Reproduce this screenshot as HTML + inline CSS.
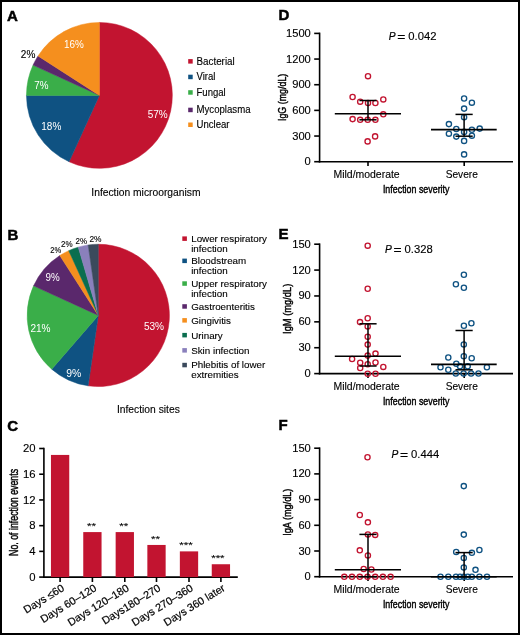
<!DOCTYPE html>
<html><head><meta charset="utf-8"><style>
html,body{margin:0;padding:0;background:#fff;}
svg{display:block;will-change:transform;}
text{font-family:"Liberation Sans",sans-serif;}
</style></head><body>
<svg width="520" height="635" viewBox="0 0 520 635">
<rect x="0" y="0" width="520" height="635" fill="#fff"/>
<text x="7" y="20.5" font-size="15" fill="#000" font-weight="bold" stroke="#000" stroke-width="0.5">A</text>
<path d="M99.4,95.4 L99.40,22.45 A72.95,72.95 0 1 1 69.10,161.76 Z" fill="#C21430" stroke="#C21430" stroke-width="0.5" stroke-linejoin="round"/>
<path d="M99.4,95.4 L69.10,161.76 A72.95,72.95 0 0 1 26.45,95.40 Z" fill="#0F5282" stroke="#0F5282" stroke-width="0.5" stroke-linejoin="round"/>
<path d="M99.4,95.4 L26.45,95.40 A72.95,72.95 0 0 1 33.04,65.10 Z" fill="#3AAE49" stroke="#3AAE49" stroke-width="0.5" stroke-linejoin="round"/>
<path d="M99.4,95.4 L33.04,65.10 A72.95,72.95 0 0 1 38.03,55.96 Z" fill="#5A286C" stroke="#5A286C" stroke-width="0.5" stroke-linejoin="round"/>
<path d="M99.4,95.4 L38.03,55.96 A72.95,72.95 0 0 1 99.40,22.45 Z" fill="#F58F1E" stroke="#F58F1E" stroke-width="0.5" stroke-linejoin="round"/>
<text x="147.7" y="117.5" font-size="10" fill="#fff" textLength="20" lengthAdjust="spacingAndGlyphs">57%</text>
<text x="41.3" y="130.4" font-size="10" fill="#fff" textLength="20" lengthAdjust="spacingAndGlyphs">18%</text>
<text x="34.2" y="88.6" font-size="10" fill="#fff" textLength="14.2" lengthAdjust="spacingAndGlyphs">7%</text>
<text x="64.1" y="47.6" font-size="10" fill="#fff" textLength="19.8" lengthAdjust="spacingAndGlyphs">16%</text>
<text x="20.8" y="57.9" font-size="10" fill="#000" textLength="14.5" lengthAdjust="spacingAndGlyphs" stroke="#000" stroke-width="0.12">2%</text>
<rect x="188.2" y="59.099999999999994" width="4.5" height="4.5" fill="#C21430"/>
<text x="196.5" y="64.7" font-size="10" fill="#000" textLength="38.2" lengthAdjust="spacingAndGlyphs" stroke="#000" stroke-width="0.12">Bacterial</text>
<rect x="188.2" y="74.7" width="4.5" height="4.5" fill="#0F5282"/>
<text x="196.5" y="80.30000000000001" font-size="10" fill="#000" textLength="19.0" lengthAdjust="spacingAndGlyphs" stroke="#000" stroke-width="0.12">Viral</text>
<rect x="188.2" y="90.2" width="4.5" height="4.5" fill="#3AAE49"/>
<text x="196.5" y="95.80000000000001" font-size="10" fill="#000" textLength="29.2" lengthAdjust="spacingAndGlyphs" stroke="#000" stroke-width="0.12">Fungal</text>
<rect x="188.2" y="107.7" width="4.5" height="4.5" fill="#5A286C"/>
<text x="196.5" y="113.30000000000001" font-size="10" fill="#000" textLength="54.0" lengthAdjust="spacingAndGlyphs" stroke="#000" stroke-width="0.12">Mycoplasma</text>
<rect x="188.2" y="122.5" width="4.5" height="4.5" fill="#F58F1E"/>
<text x="196.5" y="128.1" font-size="10" fill="#000" textLength="33.0" lengthAdjust="spacingAndGlyphs" stroke="#000" stroke-width="0.12">Unclear</text>
<text x="91.3" y="195.9" font-size="10" fill="#000" textLength="109.2" lengthAdjust="spacingAndGlyphs" stroke="#000" stroke-width="0.12">Infection microorganism</text>
<text x="7.5" y="239.6" font-size="15" fill="#000" font-weight="bold" stroke="#000" stroke-width="0.5">B</text>
<path d="M98.3,315.4 L98.30,244.25 A71.15,71.15 0 1 1 88.17,385.83 Z" fill="#C21430" stroke="#C21430" stroke-width="0.5" stroke-linejoin="round"/>
<path d="M98.3,315.4 L88.17,385.83 A71.15,71.15 0 0 1 51.71,369.17 Z" fill="#0F5282" stroke="#0F5282" stroke-width="0.5" stroke-linejoin="round"/>
<path d="M98.3,315.4 L51.71,369.17 A71.15,71.15 0 0 1 33.58,285.84 Z" fill="#3AAE49" stroke="#3AAE49" stroke-width="0.5" stroke-linejoin="round"/>
<path d="M98.3,315.4 L33.58,285.84 A71.15,71.15 0 0 1 59.83,255.54 Z" fill="#5A286C" stroke="#5A286C" stroke-width="0.5" stroke-linejoin="round"/>
<path d="M98.3,315.4 L59.83,255.54 A71.15,71.15 0 0 1 68.74,250.68 Z" fill="#F58F1E" stroke="#F58F1E" stroke-width="0.5" stroke-linejoin="round"/>
<path d="M98.3,315.4 L68.74,250.68 A71.15,71.15 0 0 1 78.25,247.13 Z" fill="#0B6E4F" stroke="#0B6E4F" stroke-width="0.5" stroke-linejoin="round"/>
<path d="M98.3,315.4 L78.25,247.13 A71.15,71.15 0 0 1 88.17,244.97 Z" fill="#8A80BC" stroke="#8A80BC" stroke-width="0.5" stroke-linejoin="round"/>
<path d="M98.3,315.4 L88.17,244.97 A71.15,71.15 0 0 1 98.30,244.25 Z" fill="#3B4A5C" stroke="#3B4A5C" stroke-width="0.5" stroke-linejoin="round"/>
<text x="143.9" y="329.7" font-size="10" fill="#fff" textLength="20.2" lengthAdjust="spacingAndGlyphs">53%</text>
<text x="66.3" y="376.7" font-size="10" fill="#fff" textLength="15" lengthAdjust="spacingAndGlyphs">9%</text>
<text x="30.4" y="332.3" font-size="10" fill="#fff" textLength="20.2" lengthAdjust="spacingAndGlyphs">21%</text>
<text x="45.5" y="280.8" font-size="10" fill="#fff" textLength="14.2" lengthAdjust="spacingAndGlyphs">9%</text>
<text x="50.2" y="252.8" font-size="8.2" fill="#000" textLength="10.9" lengthAdjust="spacingAndGlyphs" stroke="#000" stroke-width="0.12">2%</text>
<text x="61.1" y="247" font-size="8.2" fill="#000" textLength="11.6" lengthAdjust="spacingAndGlyphs" stroke="#000" stroke-width="0.12">2%</text>
<text x="75.6" y="243.6" font-size="8.2" fill="#000" textLength="11.5" lengthAdjust="spacingAndGlyphs" stroke="#000" stroke-width="0.12">2%</text>
<text x="89.4" y="242.1" font-size="8.2" fill="#000" textLength="12.1" lengthAdjust="spacingAndGlyphs" stroke="#000" stroke-width="0.12">2%</text>
<rect x="182.3" y="236.4" width="4.6" height="4.5" fill="#C21430"/>
<text x="191.2" y="242" font-size="9.8" fill="#000" stroke="#000" stroke-width="0.12">Lower respiratory</text>
<text x="191.2" y="251.5" font-size="9.8" fill="#000" stroke="#000" stroke-width="0.12">infection</text>
<rect x="182.3" y="258.59999999999997" width="4.6" height="4.5" fill="#0F5282"/>
<text x="191.2" y="264.2" font-size="9.8" fill="#000" stroke="#000" stroke-width="0.12">Bloodstream</text>
<text x="191.2" y="273.8" font-size="9.8" fill="#000" stroke="#000" stroke-width="0.12">infection</text>
<rect x="182.3" y="281.29999999999995" width="4.6" height="4.5" fill="#3AAE49"/>
<text x="191.2" y="286.9" font-size="9.8" fill="#000" stroke="#000" stroke-width="0.12">Upper respiratory</text>
<text x="191.2" y="296.5" font-size="9.8" fill="#000" stroke="#000" stroke-width="0.12">infection</text>
<rect x="182.3" y="304.2" width="4.6" height="4.5" fill="#5A286C"/>
<text x="191.2" y="309.8" font-size="9.8" fill="#000" stroke="#000" stroke-width="0.12">Gastroenteritis</text>
<rect x="182.3" y="318.09999999999997" width="4.6" height="4.5" fill="#F58F1E"/>
<text x="191.2" y="323.7" font-size="9.8" fill="#000" stroke="#000" stroke-width="0.12">Gingivitis</text>
<rect x="182.3" y="332.9" width="4.6" height="4.5" fill="#0B6E4F"/>
<text x="191.2" y="338.5" font-size="9.8" fill="#000" stroke="#000" stroke-width="0.12">Urinary</text>
<rect x="182.3" y="348.09999999999997" width="4.6" height="4.5" fill="#8A80BC"/>
<text x="191.2" y="353.7" font-size="9.8" fill="#000" stroke="#000" stroke-width="0.12">Skin infection</text>
<rect x="182.3" y="362.79999999999995" width="4.6" height="4.5" fill="#3B4A5C"/>
<text x="191.2" y="368.4" font-size="9.8" fill="#000" stroke="#000" stroke-width="0.12">Phlebitis of lower</text>
<text x="191.2" y="377.9" font-size="9.8" fill="#000" stroke="#000" stroke-width="0.12">extremities</text>
<text x="116.9" y="413.3" font-size="10" fill="#000" textLength="62.9" lengthAdjust="spacingAndGlyphs" stroke="#000" stroke-width="0.12">Infection sites</text>
<text x="7.3" y="431.1" font-size="15" fill="#000" font-weight="bold" stroke="#000" stroke-width="0.5">C</text>
<line x1="43.9" y1="447.7" x2="43.9" y2="577.9" stroke="#000" stroke-width="1.6"/>
<line x1="43.1" y1="577.1" x2="237.8" y2="577.1" stroke="#000" stroke-width="1.8"/>
<line x1="39.2" y1="577.1" x2="43.9" y2="577.1" stroke="#000" stroke-width="1.6"/>
<text x="35.6" y="580.7" font-size="10.2" fill="#000" text-anchor="end" textLength="6.3" lengthAdjust="spacingAndGlyphs" stroke="#000" stroke-width="0.12">0</text>
<line x1="39.2" y1="551.38" x2="43.9" y2="551.38" stroke="#000" stroke-width="1.6"/>
<text x="35.6" y="554.98" font-size="10.2" fill="#000" text-anchor="end" textLength="6.3" lengthAdjust="spacingAndGlyphs" stroke="#000" stroke-width="0.12">4</text>
<line x1="39.2" y1="525.6600000000001" x2="43.9" y2="525.6600000000001" stroke="#000" stroke-width="1.6"/>
<text x="35.6" y="529.2600000000001" font-size="10.2" fill="#000" text-anchor="end" textLength="6.3" lengthAdjust="spacingAndGlyphs" stroke="#000" stroke-width="0.12">8</text>
<line x1="39.2" y1="499.94000000000005" x2="43.9" y2="499.94000000000005" stroke="#000" stroke-width="1.6"/>
<text x="35.6" y="503.5400000000001" font-size="10.2" fill="#000" text-anchor="end" textLength="12.6" lengthAdjust="spacingAndGlyphs" stroke="#000" stroke-width="0.12">12</text>
<line x1="39.2" y1="474.22" x2="43.9" y2="474.22" stroke="#000" stroke-width="1.6"/>
<text x="35.6" y="477.82000000000005" font-size="10.2" fill="#000" text-anchor="end" textLength="12.6" lengthAdjust="spacingAndGlyphs" stroke="#000" stroke-width="0.12">16</text>
<line x1="39.2" y1="448.5" x2="43.9" y2="448.5" stroke="#000" stroke-width="1.6"/>
<text x="35.6" y="452.1" font-size="10.2" fill="#000" text-anchor="end" textLength="12.6" lengthAdjust="spacingAndGlyphs" stroke="#000" stroke-width="0.12">20</text>
<rect x="50.95" y="454.93000000000006" width="18.3" height="122.16999999999999" fill="#C21430"/>
<line x1="60.1" y1="577.1" x2="60.1" y2="582" stroke="#000" stroke-width="1.6"/>
<text x="65.1" y="590.0" font-size="10.8" fill="#000" stroke="#000" stroke-width="0.2" text-anchor="end" transform="rotate(-31.5 65.1 590.0)">Days ≤60</text>
<rect x="83.25" y="532.09" width="18.3" height="45.01" fill="#C21430"/>
<line x1="92.4" y1="577.1" x2="92.4" y2="582" stroke="#000" stroke-width="1.6"/>
<text x="91.4" y="528.7900000000001" font-size="9.2" fill="#000" text-anchor="middle" textLength="9.0" lengthAdjust="spacingAndGlyphs" stroke="#000" stroke-width="0.12">**</text>
<text x="97.4" y="590.0" font-size="10.8" fill="#000" stroke="#000" stroke-width="0.2" text-anchor="end" transform="rotate(-31.5 97.4 590.0)">Days 60–120</text>
<rect x="115.64999999999999" y="532.09" width="18.3" height="45.01" fill="#C21430"/>
<line x1="124.8" y1="577.1" x2="124.8" y2="582" stroke="#000" stroke-width="1.6"/>
<text x="123.8" y="528.7900000000001" font-size="9.2" fill="#000" text-anchor="middle" textLength="9.0" lengthAdjust="spacingAndGlyphs" stroke="#000" stroke-width="0.12">**</text>
<text x="129.8" y="590.0" font-size="10.8" fill="#000" stroke="#000" stroke-width="0.2" text-anchor="end" transform="rotate(-31.5 129.8 590.0)">Days 120–180</text>
<rect x="147.35" y="544.95" width="18.3" height="32.15" fill="#C21430"/>
<line x1="156.5" y1="577.1" x2="156.5" y2="582" stroke="#000" stroke-width="1.6"/>
<text x="155.5" y="541.6500000000001" font-size="9.2" fill="#000" text-anchor="middle" textLength="9.0" lengthAdjust="spacingAndGlyphs" stroke="#000" stroke-width="0.12">**</text>
<text x="161.5" y="590.0" font-size="10.8" fill="#000" stroke="#000" stroke-width="0.2" text-anchor="end" transform="rotate(-31.5 161.5 590.0)">Days180–270</text>
<rect x="179.85" y="551.38" width="18.3" height="25.72" fill="#C21430"/>
<line x1="189" y1="577.1" x2="189" y2="582" stroke="#000" stroke-width="1.6"/>
<text x="186.0" y="548.08" font-size="9.2" fill="#000" text-anchor="middle" textLength="13.4" lengthAdjust="spacingAndGlyphs" stroke="#000" stroke-width="0.12">***</text>
<text x="194.0" y="590.0" font-size="10.8" fill="#000" stroke="#000" stroke-width="0.2" text-anchor="end" transform="rotate(-31.5 194.0 590.0)">Days 270–360</text>
<rect x="211.75" y="564.24" width="18.3" height="12.86" fill="#C21430"/>
<line x1="220.9" y1="577.1" x2="220.9" y2="582" stroke="#000" stroke-width="1.6"/>
<text x="217.9" y="560.94" font-size="9.2" fill="#000" text-anchor="middle" textLength="13.4" lengthAdjust="spacingAndGlyphs" stroke="#000" stroke-width="0.12">***</text>
<text x="225.9" y="590.0" font-size="10.8" fill="#000" stroke="#000" stroke-width="0.2" text-anchor="end" transform="rotate(-31.5 225.9 590.0)">Days 360 later</text>
<text x="0" y="0" font-size="12.3" fill="#000" stroke="#000" stroke-width="0.45" text-anchor="middle" textLength="87" lengthAdjust="spacingAndGlyphs" transform="translate(17.8 512.4) rotate(-90)">No. of infection events</text>
<text x="278.5" y="20.400000000000002" font-size="15" fill="#000" font-weight="bold" stroke="#000" stroke-width="0.5">D</text>
<line x1="319.6" y1="32.6" x2="319.6" y2="162.5" stroke="#000" stroke-width="1.6"/>
<line x1="318.8" y1="161.7" x2="513" y2="161.7" stroke="#000" stroke-width="1.6"/>
<line x1="314.2" y1="161.7" x2="319.6" y2="161.7" stroke="#000" stroke-width="1.6"/>
<text x="310.8" y="165.2" font-size="10" fill="#000" text-anchor="end" textLength="6.2" lengthAdjust="spacingAndGlyphs" stroke="#000" stroke-width="0.12">0</text>
<line x1="314.2" y1="136.04" x2="319.6" y2="136.04" stroke="#000" stroke-width="1.6"/>
<text x="310.8" y="139.54" font-size="10" fill="#000" text-anchor="end" textLength="18.6" lengthAdjust="spacingAndGlyphs" stroke="#000" stroke-width="0.12">300</text>
<line x1="314.2" y1="110.38" x2="319.6" y2="110.38" stroke="#000" stroke-width="1.6"/>
<text x="310.8" y="113.88" font-size="10" fill="#000" text-anchor="end" textLength="18.6" lengthAdjust="spacingAndGlyphs" stroke="#000" stroke-width="0.12">600</text>
<line x1="314.2" y1="84.72" x2="319.6" y2="84.72" stroke="#000" stroke-width="1.6"/>
<text x="310.8" y="88.22" font-size="10" fill="#000" text-anchor="end" textLength="18.6" lengthAdjust="spacingAndGlyphs" stroke="#000" stroke-width="0.12">900</text>
<line x1="314.2" y1="59.06" x2="319.6" y2="59.06" stroke="#000" stroke-width="1.6"/>
<text x="310.8" y="62.56" font-size="10" fill="#000" text-anchor="end" textLength="24.8" lengthAdjust="spacingAndGlyphs" stroke="#000" stroke-width="0.12">1200</text>
<line x1="314.2" y1="33.400000000000006" x2="319.6" y2="33.400000000000006" stroke="#000" stroke-width="1.6"/>
<text x="310.8" y="36.900000000000006" font-size="10" fill="#000" text-anchor="end" textLength="24.8" lengthAdjust="spacingAndGlyphs" stroke="#000" stroke-width="0.12">1500</text>
<line x1="368" y1="161.7" x2="368" y2="166.0" stroke="#000" stroke-width="1.6"/>
<line x1="464.2" y1="161.7" x2="464.2" y2="166.0" stroke="#000" stroke-width="1.6"/>
<text x="366.6" y="177.89999999999998" font-size="10.1" fill="#000" text-anchor="middle" textLength="66.2" lengthAdjust="spacingAndGlyphs" stroke="#000" stroke-width="0.12">Mild/moderate</text>
<text x="461.8" y="177.89999999999998" font-size="10.1" fill="#000" text-anchor="middle" textLength="32.2" lengthAdjust="spacingAndGlyphs" stroke="#000" stroke-width="0.12">Severe</text>
<text x="416.2" y="193.39999999999998" font-size="11.8" fill="#000" text-anchor="middle" textLength="66.6" lengthAdjust="spacingAndGlyphs" stroke="#000" stroke-width="0.45">Infection severity</text>
<text x="0" y="0" font-size="11.7" fill="#000" stroke="#000" stroke-width="0.45" text-anchor="middle" textLength="47.4" lengthAdjust="spacingAndGlyphs" transform="translate(285.6 97.4) rotate(-90)">IgG (mg/dL)</text>
<text x="388.7" y="39.6" font-size="10.2" fill="#000" stroke="#000" stroke-width="0.2" font-style="italic">P</text>
<text x="397.3" y="40.6" font-size="10" fill="#000" textLength="8.1" lengthAdjust="spacingAndGlyphs" stroke="#000" stroke-width="0.12">=</text>
<text x="408.3" y="39.6" font-size="10" fill="#000" textLength="28.2" lengthAdjust="spacingAndGlyphs" stroke="#000" stroke-width="0.12">0.042</text>
<circle cx="368.0" cy="76.2" r="2.6" fill="none" stroke="#C21430" stroke-width="1.35"/>
<circle cx="352.6" cy="97.0" r="2.6" fill="none" stroke="#C21430" stroke-width="1.35"/>
<circle cx="360.2" cy="101.7" r="2.6" fill="none" stroke="#C21430" stroke-width="1.35"/>
<circle cx="368.0" cy="103.0" r="2.6" fill="none" stroke="#C21430" stroke-width="1.35"/>
<circle cx="375.4" cy="103.0" r="2.6" fill="none" stroke="#C21430" stroke-width="1.35"/>
<circle cx="383.3" cy="99.4" r="2.6" fill="none" stroke="#C21430" stroke-width="1.35"/>
<circle cx="383.3" cy="114.3" r="2.6" fill="none" stroke="#C21430" stroke-width="1.35"/>
<circle cx="352.6" cy="119.1" r="2.6" fill="none" stroke="#C21430" stroke-width="1.35"/>
<circle cx="360.2" cy="119.8" r="2.6" fill="none" stroke="#C21430" stroke-width="1.35"/>
<circle cx="367.7" cy="119.8" r="2.6" fill="none" stroke="#C21430" stroke-width="1.35"/>
<circle cx="375.4" cy="119.8" r="2.6" fill="none" stroke="#C21430" stroke-width="1.35"/>
<circle cx="375.1" cy="136.4" r="2.6" fill="none" stroke="#C21430" stroke-width="1.35"/>
<circle cx="367.6" cy="141.4" r="2.6" fill="none" stroke="#C21430" stroke-width="1.35"/>
<circle cx="464.1" cy="98.5" r="2.6" fill="none" stroke="#0F5282" stroke-width="1.35"/>
<circle cx="471.9" cy="102.7" r="2.6" fill="none" stroke="#0F5282" stroke-width="1.35"/>
<circle cx="464.1" cy="108.6" r="2.6" fill="none" stroke="#0F5282" stroke-width="1.35"/>
<circle cx="464.1" cy="117.2" r="2.6" fill="none" stroke="#0F5282" stroke-width="1.35"/>
<circle cx="448.9" cy="124.1" r="2.6" fill="none" stroke="#0F5282" stroke-width="1.35"/>
<circle cx="456.3" cy="129.0" r="2.6" fill="none" stroke="#0F5282" stroke-width="1.35"/>
<circle cx="471.9" cy="129.7" r="2.6" fill="none" stroke="#0F5282" stroke-width="1.35"/>
<circle cx="479.7" cy="128.6" r="2.6" fill="none" stroke="#0F5282" stroke-width="1.35"/>
<circle cx="464.1" cy="131.9" r="2.6" fill="none" stroke="#0F5282" stroke-width="1.35"/>
<circle cx="448.9" cy="133.7" r="2.6" fill="none" stroke="#0F5282" stroke-width="1.35"/>
<circle cx="456.3" cy="136.6" r="2.6" fill="none" stroke="#0F5282" stroke-width="1.35"/>
<circle cx="471.9" cy="135.7" r="2.6" fill="none" stroke="#0F5282" stroke-width="1.35"/>
<circle cx="464.1" cy="140.9" r="2.6" fill="none" stroke="#0F5282" stroke-width="1.35"/>
<circle cx="464.1" cy="154.4" r="2.6" fill="none" stroke="#0F5282" stroke-width="1.35"/>
<line x1="334.8" y1="113.8" x2="401" y2="113.8" stroke="#000" stroke-width="1.6"/>
<line x1="368" y1="100.5" x2="368" y2="119.8" stroke="#000" stroke-width="1.5"/>
<line x1="359.4" y1="100.5" x2="376.6" y2="100.5" stroke="#000" stroke-width="1.5"/>
<line x1="359.4" y1="119.8" x2="376.6" y2="119.8" stroke="#000" stroke-width="1.5"/>
<line x1="431" y1="129.6" x2="496.7" y2="129.6" stroke="#000" stroke-width="1.6"/>
<line x1="464.1" y1="114.4" x2="464.1" y2="136.2" stroke="#000" stroke-width="1.5"/>
<line x1="455.5" y1="114.4" x2="472.70000000000005" y2="114.4" stroke="#000" stroke-width="1.5"/>
<line x1="455.5" y1="136.2" x2="472.70000000000005" y2="136.2" stroke="#000" stroke-width="1.5"/>
<text x="278.5" y="238.79999999999998" font-size="15" fill="#000" font-weight="bold" stroke="#000" stroke-width="0.5">E</text>
<line x1="319.6" y1="243.39999999999998" x2="319.6" y2="374.40000000000003" stroke="#000" stroke-width="1.6"/>
<line x1="318.8" y1="373.6" x2="513" y2="373.6" stroke="#000" stroke-width="1.6"/>
<line x1="314.2" y1="373.6" x2="319.6" y2="373.6" stroke="#000" stroke-width="1.6"/>
<text x="310.8" y="377.1" font-size="10" fill="#000" text-anchor="end" textLength="6.2" lengthAdjust="spacingAndGlyphs" stroke="#000" stroke-width="0.12">0</text>
<line x1="314.2" y1="347.72" x2="319.6" y2="347.72" stroke="#000" stroke-width="1.6"/>
<text x="310.8" y="351.22" font-size="10" fill="#000" text-anchor="end" textLength="12.4" lengthAdjust="spacingAndGlyphs" stroke="#000" stroke-width="0.12">30</text>
<line x1="314.2" y1="321.84000000000003" x2="319.6" y2="321.84000000000003" stroke="#000" stroke-width="1.6"/>
<text x="310.8" y="325.34000000000003" font-size="10" fill="#000" text-anchor="end" textLength="12.4" lengthAdjust="spacingAndGlyphs" stroke="#000" stroke-width="0.12">60</text>
<line x1="314.2" y1="295.96000000000004" x2="319.6" y2="295.96000000000004" stroke="#000" stroke-width="1.6"/>
<text x="310.8" y="299.46000000000004" font-size="10" fill="#000" text-anchor="end" textLength="12.4" lengthAdjust="spacingAndGlyphs" stroke="#000" stroke-width="0.12">90</text>
<line x1="314.2" y1="270.08" x2="319.6" y2="270.08" stroke="#000" stroke-width="1.6"/>
<text x="310.8" y="273.58" font-size="10" fill="#000" text-anchor="end" textLength="18.6" lengthAdjust="spacingAndGlyphs" stroke="#000" stroke-width="0.12">120</text>
<line x1="314.2" y1="244.2" x2="319.6" y2="244.2" stroke="#000" stroke-width="1.6"/>
<text x="310.8" y="247.7" font-size="10" fill="#000" text-anchor="end" textLength="18.6" lengthAdjust="spacingAndGlyphs" stroke="#000" stroke-width="0.12">150</text>
<line x1="368" y1="373.6" x2="368" y2="377.90000000000003" stroke="#000" stroke-width="1.6"/>
<line x1="464.2" y1="373.6" x2="464.2" y2="377.90000000000003" stroke="#000" stroke-width="1.6"/>
<text x="366.6" y="389.8" font-size="10.1" fill="#000" text-anchor="middle" textLength="66.2" lengthAdjust="spacingAndGlyphs" stroke="#000" stroke-width="0.12">Mild/moderate</text>
<text x="461.8" y="389.8" font-size="10.1" fill="#000" text-anchor="middle" textLength="32.2" lengthAdjust="spacingAndGlyphs" stroke="#000" stroke-width="0.12">Severe</text>
<text x="416.2" y="405.3" font-size="11.8" fill="#000" text-anchor="middle" textLength="66.6" lengthAdjust="spacingAndGlyphs" stroke="#000" stroke-width="0.45">Infection severity</text>
<text x="0" y="0" font-size="11.7" fill="#000" stroke="#000" stroke-width="0.45" text-anchor="middle" textLength="50.2" lengthAdjust="spacingAndGlyphs" transform="translate(291.2 308.8) rotate(-90)">IgM (mg/dL)</text>
<text x="384.9" y="252.6" font-size="10.2" fill="#000" stroke="#000" stroke-width="0.2" font-style="italic">P</text>
<text x="393.5" y="253.6" font-size="10" fill="#000" textLength="8.1" lengthAdjust="spacingAndGlyphs" stroke="#000" stroke-width="0.12">=</text>
<text x="404.5" y="252.6" font-size="10" fill="#000" textLength="28.2" lengthAdjust="spacingAndGlyphs" stroke="#000" stroke-width="0.12">0.328</text>
<circle cx="367.7" cy="245.7" r="2.6" fill="none" stroke="#C21430" stroke-width="1.35"/>
<circle cx="367.7" cy="288.7" r="2.6" fill="none" stroke="#C21430" stroke-width="1.35"/>
<circle cx="367.7" cy="318.3" r="2.6" fill="none" stroke="#C21430" stroke-width="1.35"/>
<circle cx="360.0" cy="322.1" r="2.6" fill="none" stroke="#C21430" stroke-width="1.35"/>
<circle cx="367.7" cy="326.4" r="2.6" fill="none" stroke="#C21430" stroke-width="1.35"/>
<circle cx="367.7" cy="336.8" r="2.6" fill="none" stroke="#C21430" stroke-width="1.35"/>
<circle cx="367.7" cy="344.6" r="2.6" fill="none" stroke="#C21430" stroke-width="1.35"/>
<circle cx="375.5" cy="353.6" r="2.6" fill="none" stroke="#C21430" stroke-width="1.35"/>
<circle cx="367.7" cy="355.6" r="2.6" fill="none" stroke="#C21430" stroke-width="1.35"/>
<circle cx="352.1" cy="359.0" r="2.6" fill="none" stroke="#C21430" stroke-width="1.35"/>
<circle cx="360.2" cy="362.7" r="2.6" fill="none" stroke="#C21430" stroke-width="1.35"/>
<circle cx="375.5" cy="362.5" r="2.6" fill="none" stroke="#C21430" stroke-width="1.35"/>
<circle cx="367.7" cy="364.2" r="2.6" fill="none" stroke="#C21430" stroke-width="1.35"/>
<circle cx="360.2" cy="368.0" r="2.6" fill="none" stroke="#C21430" stroke-width="1.35"/>
<circle cx="383.3" cy="366.9" r="2.6" fill="none" stroke="#C21430" stroke-width="1.35"/>
<circle cx="367.7" cy="373.7" r="2.6" fill="none" stroke="#C21430" stroke-width="1.35"/>
<circle cx="375.5" cy="373.7" r="2.6" fill="none" stroke="#C21430" stroke-width="1.35"/>
<circle cx="463.9" cy="274.7" r="2.6" fill="none" stroke="#0F5282" stroke-width="1.35"/>
<circle cx="455.9" cy="284.2" r="2.6" fill="none" stroke="#0F5282" stroke-width="1.35"/>
<circle cx="463.9" cy="287.8" r="2.6" fill="none" stroke="#0F5282" stroke-width="1.35"/>
<circle cx="471.4" cy="323.3" r="2.6" fill="none" stroke="#0F5282" stroke-width="1.35"/>
<circle cx="463.9" cy="325.8" r="2.6" fill="none" stroke="#0F5282" stroke-width="1.35"/>
<circle cx="463.8" cy="344.4" r="2.6" fill="none" stroke="#0F5282" stroke-width="1.35"/>
<circle cx="463.8" cy="356.2" r="2.6" fill="none" stroke="#0F5282" stroke-width="1.35"/>
<circle cx="448.3" cy="357.5" r="2.6" fill="none" stroke="#0F5282" stroke-width="1.35"/>
<circle cx="471.7" cy="358.2" r="2.6" fill="none" stroke="#0F5282" stroke-width="1.35"/>
<circle cx="456.3" cy="363.7" r="2.6" fill="none" stroke="#0F5282" stroke-width="1.35"/>
<circle cx="460.0" cy="366.3" r="2.6" fill="none" stroke="#0F5282" stroke-width="1.35"/>
<circle cx="467.7" cy="366.3" r="2.6" fill="none" stroke="#0F5282" stroke-width="1.35"/>
<circle cx="440.5" cy="367.3" r="2.6" fill="none" stroke="#0F5282" stroke-width="1.35"/>
<circle cx="486.9" cy="367.3" r="2.6" fill="none" stroke="#0F5282" stroke-width="1.35"/>
<circle cx="448.3" cy="369.8" r="2.6" fill="none" stroke="#0F5282" stroke-width="1.35"/>
<circle cx="455.8" cy="373.5" r="2.6" fill="none" stroke="#0F5282" stroke-width="1.35"/>
<circle cx="463.6" cy="373.5" r="2.6" fill="none" stroke="#0F5282" stroke-width="1.35"/>
<circle cx="471.1" cy="373.5" r="2.6" fill="none" stroke="#0F5282" stroke-width="1.35"/>
<circle cx="478.5" cy="373.5" r="2.6" fill="none" stroke="#0F5282" stroke-width="1.35"/>
<line x1="334.8" y1="356.2" x2="401" y2="356.2" stroke="#000" stroke-width="1.6"/>
<line x1="368" y1="323.8" x2="368" y2="366" stroke="#000" stroke-width="1.5"/>
<line x1="359.4" y1="323.8" x2="376.6" y2="323.8" stroke="#000" stroke-width="1.5"/>
<line x1="359.4" y1="366" x2="376.6" y2="366" stroke="#000" stroke-width="1.5"/>
<line x1="431" y1="364.4" x2="496.7" y2="364.4" stroke="#000" stroke-width="1.6"/>
<line x1="464.1" y1="330.5" x2="464.1" y2="369.8" stroke="#000" stroke-width="1.5"/>
<line x1="455.5" y1="330.5" x2="472.70000000000005" y2="330.5" stroke="#000" stroke-width="1.5"/>
<line x1="455.5" y1="369.8" x2="472.70000000000005" y2="369.8" stroke="#000" stroke-width="1.5"/>
<text x="278.5" y="430.40000000000003" font-size="15" fill="#000" font-weight="bold" stroke="#000" stroke-width="0.5">F</text>
<line x1="319.6" y1="447.4" x2="319.6" y2="577.5" stroke="#000" stroke-width="1.6"/>
<line x1="318.8" y1="576.7" x2="513" y2="576.7" stroke="#000" stroke-width="1.6"/>
<line x1="314.2" y1="576.7" x2="319.6" y2="576.7" stroke="#000" stroke-width="1.6"/>
<text x="310.8" y="580.2" font-size="10" fill="#000" text-anchor="end" textLength="6.2" lengthAdjust="spacingAndGlyphs" stroke="#000" stroke-width="0.12">0</text>
<line x1="314.2" y1="551.0" x2="319.6" y2="551.0" stroke="#000" stroke-width="1.6"/>
<text x="310.8" y="554.5" font-size="10" fill="#000" text-anchor="end" textLength="12.4" lengthAdjust="spacingAndGlyphs" stroke="#000" stroke-width="0.12">30</text>
<line x1="314.2" y1="525.3000000000001" x2="319.6" y2="525.3000000000001" stroke="#000" stroke-width="1.6"/>
<text x="310.8" y="528.8000000000001" font-size="10" fill="#000" text-anchor="end" textLength="12.4" lengthAdjust="spacingAndGlyphs" stroke="#000" stroke-width="0.12">60</text>
<line x1="314.2" y1="499.6" x2="319.6" y2="499.6" stroke="#000" stroke-width="1.6"/>
<text x="310.8" y="503.1" font-size="10" fill="#000" text-anchor="end" textLength="12.4" lengthAdjust="spacingAndGlyphs" stroke="#000" stroke-width="0.12">90</text>
<line x1="314.2" y1="473.9" x2="319.6" y2="473.9" stroke="#000" stroke-width="1.6"/>
<text x="310.8" y="477.4" font-size="10" fill="#000" text-anchor="end" textLength="18.6" lengthAdjust="spacingAndGlyphs" stroke="#000" stroke-width="0.12">120</text>
<line x1="314.2" y1="448.2" x2="319.6" y2="448.2" stroke="#000" stroke-width="1.6"/>
<text x="310.8" y="451.7" font-size="10" fill="#000" text-anchor="end" textLength="18.6" lengthAdjust="spacingAndGlyphs" stroke="#000" stroke-width="0.12">150</text>
<line x1="368" y1="576.7" x2="368" y2="581.0" stroke="#000" stroke-width="1.6"/>
<line x1="464.2" y1="576.7" x2="464.2" y2="581.0" stroke="#000" stroke-width="1.6"/>
<text x="366.6" y="592.9000000000001" font-size="10.1" fill="#000" text-anchor="middle" textLength="66.2" lengthAdjust="spacingAndGlyphs" stroke="#000" stroke-width="0.12">Mild/moderate</text>
<text x="461.8" y="592.9000000000001" font-size="10.1" fill="#000" text-anchor="middle" textLength="32.2" lengthAdjust="spacingAndGlyphs" stroke="#000" stroke-width="0.12">Severe</text>
<text x="416.2" y="608.4000000000001" font-size="11.8" fill="#000" text-anchor="middle" textLength="66.6" lengthAdjust="spacingAndGlyphs" stroke="#000" stroke-width="0.45">Infection severity</text>
<text x="0" y="0" font-size="11.7" fill="#000" stroke="#000" stroke-width="0.45" text-anchor="middle" textLength="47.1" lengthAdjust="spacingAndGlyphs" transform="translate(291.2 512.2) rotate(-90)">IgA (mg/dL)</text>
<text x="391.5" y="457.6" font-size="10.2" fill="#000" stroke="#000" stroke-width="0.2" font-style="italic">P</text>
<text x="400.1" y="458.6" font-size="10" fill="#000" textLength="8.1" lengthAdjust="spacingAndGlyphs" stroke="#000" stroke-width="0.12">=</text>
<text x="411.1" y="457.6" font-size="10" fill="#000" textLength="28.2" lengthAdjust="spacingAndGlyphs" stroke="#000" stroke-width="0.12">0.444</text>
<circle cx="367.5" cy="457.3" r="2.6" fill="none" stroke="#C21430" stroke-width="1.35"/>
<circle cx="359.8" cy="515.0" r="2.6" fill="none" stroke="#C21430" stroke-width="1.35"/>
<circle cx="367.9" cy="522.3" r="2.6" fill="none" stroke="#C21430" stroke-width="1.35"/>
<circle cx="367.9" cy="534.4" r="2.6" fill="none" stroke="#C21430" stroke-width="1.35"/>
<circle cx="375.2" cy="534.9" r="2.6" fill="none" stroke="#C21430" stroke-width="1.35"/>
<circle cx="359.8" cy="550.3" r="2.6" fill="none" stroke="#C21430" stroke-width="1.35"/>
<circle cx="367.9" cy="555.4" r="2.6" fill="none" stroke="#C21430" stroke-width="1.35"/>
<circle cx="363.7" cy="569.0" r="2.6" fill="none" stroke="#C21430" stroke-width="1.35"/>
<circle cx="371.4" cy="569.5" r="2.6" fill="none" stroke="#C21430" stroke-width="1.35"/>
<circle cx="344.3" cy="576.8" r="2.6" fill="none" stroke="#C21430" stroke-width="1.35"/>
<circle cx="352.0" cy="576.8" r="2.6" fill="none" stroke="#C21430" stroke-width="1.35"/>
<circle cx="359.8" cy="576.8" r="2.6" fill="none" stroke="#C21430" stroke-width="1.35"/>
<circle cx="367.5" cy="576.8" r="2.6" fill="none" stroke="#C21430" stroke-width="1.35"/>
<circle cx="375.2" cy="576.8" r="2.6" fill="none" stroke="#C21430" stroke-width="1.35"/>
<circle cx="382.9" cy="576.8" r="2.6" fill="none" stroke="#C21430" stroke-width="1.35"/>
<circle cx="390.6" cy="576.8" r="2.6" fill="none" stroke="#C21430" stroke-width="1.35"/>
<circle cx="463.8" cy="486.1" r="2.6" fill="none" stroke="#0F5282" stroke-width="1.35"/>
<circle cx="463.8" cy="534.6" r="2.6" fill="none" stroke="#0F5282" stroke-width="1.35"/>
<circle cx="456.2" cy="551.9" r="2.6" fill="none" stroke="#0F5282" stroke-width="1.35"/>
<circle cx="471.9" cy="552.8" r="2.6" fill="none" stroke="#0F5282" stroke-width="1.35"/>
<circle cx="479.4" cy="550.0" r="2.6" fill="none" stroke="#0F5282" stroke-width="1.35"/>
<circle cx="463.8" cy="557.9" r="2.6" fill="none" stroke="#0F5282" stroke-width="1.35"/>
<circle cx="463.8" cy="567.4" r="2.6" fill="none" stroke="#0F5282" stroke-width="1.35"/>
<circle cx="475.5" cy="569.8" r="2.6" fill="none" stroke="#0F5282" stroke-width="1.35"/>
<circle cx="440.5" cy="576.7" r="2.6" fill="none" stroke="#0F5282" stroke-width="1.35"/>
<circle cx="448.3" cy="576.7" r="2.6" fill="none" stroke="#0F5282" stroke-width="1.35"/>
<circle cx="456.0" cy="576.7" r="2.6" fill="none" stroke="#0F5282" stroke-width="1.35"/>
<circle cx="460.0" cy="576.7" r="2.6" fill="none" stroke="#0F5282" stroke-width="1.35"/>
<circle cx="467.7" cy="576.7" r="2.6" fill="none" stroke="#0F5282" stroke-width="1.35"/>
<circle cx="471.8" cy="576.7" r="2.6" fill="none" stroke="#0F5282" stroke-width="1.35"/>
<circle cx="479.4" cy="576.7" r="2.6" fill="none" stroke="#0F5282" stroke-width="1.35"/>
<circle cx="487.0" cy="576.7" r="2.6" fill="none" stroke="#0F5282" stroke-width="1.35"/>
<circle cx="463.8" cy="576.7" r="2.6" fill="none" stroke="#0F5282" stroke-width="1.35"/>
<line x1="334.8" y1="569.8" x2="401" y2="569.8" stroke="#000" stroke-width="1.6"/>
<line x1="368" y1="534.4" x2="368" y2="576.7" stroke="#000" stroke-width="1.5"/>
<line x1="359.4" y1="534.4" x2="376.6" y2="534.4" stroke="#000" stroke-width="1.5"/>
<line x1="359.4" y1="576.7" x2="376.6" y2="576.7" stroke="#000" stroke-width="1.5"/>
<line x1="431" y1="576.7" x2="496.7" y2="576.7" stroke="#000" stroke-width="1.6"/>
<line x1="464.1" y1="552.6" x2="464.1" y2="576.7" stroke="#000" stroke-width="1.5"/>
<line x1="455.5" y1="552.6" x2="472.70000000000005" y2="552.6" stroke="#000" stroke-width="1.5"/>
<line x1="455.5" y1="576.7" x2="472.70000000000005" y2="576.7" stroke="#000" stroke-width="1.5"/>
<rect x="1" y="1" width="518" height="633" fill="none" stroke="#000" stroke-width="2"/>
</svg>
</body></html>
